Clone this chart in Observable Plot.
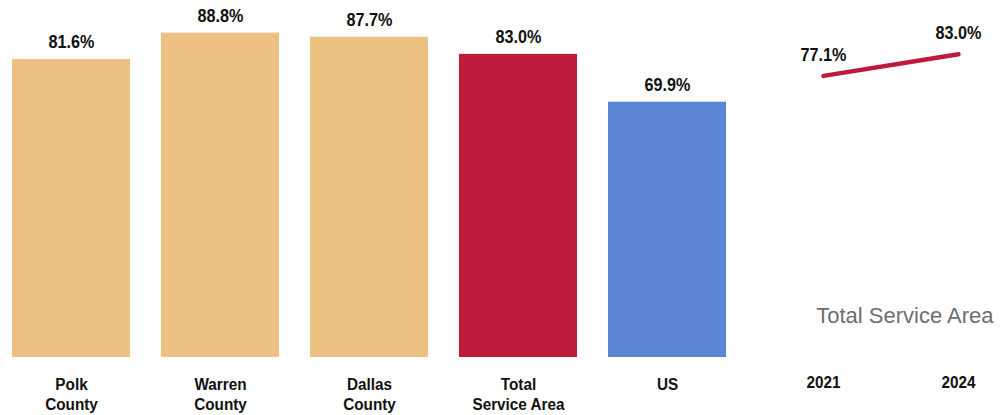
<!DOCTYPE html>
<html>
<head>
<meta charset="utf-8">
<script src="https://cdn.jsdelivr.net/npm/d3@7"></script>
<script src="https://cdn.jsdelivr.net/npm/@observablehq/plot@0.6"></script>
<style>
  html, body { margin: 0; padding: 0; background: #fff; }
  #wrap { position: relative; width: 1000px; height: 415px; overflow: hidden; }
  #bars, #line { position: absolute; top: 0; }
  #bars { left: 0; }
  #line { left: 760px; }
</style>
</head>
<body>
<div id="wrap"><div id="bars"></div><div id="line"></div></div>
<script>
const categories = ["Polk\nCounty", "Warren\nCounty", "Dallas\nCounty", "Total\nService Area", "US"];
const values = [81.6, 88.8, 87.7, 83.0, 69.9];
const barColors = ["#EDC183", "#EDC183", "#EDC183", "#BE1B3A", "#5B87D6"];
const years = ["2021", "2024"];
const trendValues = [77.1, 83.0];
const seriesName = "Total Service Area";

const font = "'Liberation Sans', Arial, sans-serif";

const barData = categories.map((c, i) => ({cat: c, value: values[i], color: barColors[i]}));
const lineData = years.map((y, i) => ({year: y, value: trendValues[i]}));
const fmt = v => v.toFixed(1) + "%";

const yOpts = {domain: [0, 95], axis: null};

// horizontally condense bold labels (narrow typeface look)
function condense(svg, k) {
  svg.querySelectorAll("text").forEach(t => {
    if (t.closest(".legend-text")) return;
    const tr = t.getAttribute("transform") || "";
    t.setAttribute("transform", tr + ` scale(${k},1)`);
  });
}

const barPlot = Plot.plot({
  width: 760, height: 415,
  marginLeft: 12, marginRight: 33, marginTop: 10, marginBottom: 58,
  style: {fontFamily: font, background: "transparent"},
  x: {domain: categories, paddingInner: 0.205, paddingOuter: 0, label: null},
  y: yOpts,
  marks: [
    Plot.barY(barData, {x: "cat", y: "value", fill: d => d.color}),
    Plot.text(barData, {x: "cat", y: "value", text: d => fmt(d.value), dy: -17, fontSize: 18, fontWeight: "bold", fill: "#111"}),
    Plot.axisX({tickSize: 0, tickPadding: 18, fontSize: 17, fontWeight: "bold", lineHeight: 1.2, fill: "#111", label: null})
  ]
});
condense(barPlot, 0.9);
document.getElementById("bars").append(barPlot);

const linePlot = Plot.plot({
  width: 240, height: 415,
  marginLeft: 63, marginRight: 42, marginTop: 10, marginBottom: 58,
  style: {fontFamily: font, background: "transparent"},
  x: {type: "point", domain: years, padding: 0, label: null},
  y: yOpts,
  marks: [
    Plot.line(lineData, {x: "year", y: "value", stroke: "#BE1B3A", strokeWidth: 4.5, strokeLinecap: "round"}),
    Plot.text(lineData, {x: "year", y: "value", text: d => fmt(d.value), dy: -21, fontSize: 18, fontWeight: "bold", fill: "#111"}),
    Plot.text([seriesName], {frameAnchor: "bottom-right", text: d => d, dx: 35, dy: -35, fontSize: 22, fill: "#6e6e6e", className: "legend-text"}),
    Plot.axisX({tickSize: 0, tickPadding: 18, fontSize: 17, fontWeight: "bold", fill: "#111", label: null})
  ]
});
condense(linePlot, 0.9);
document.getElementById("line").append(linePlot);
</script>
</body>
</html>
